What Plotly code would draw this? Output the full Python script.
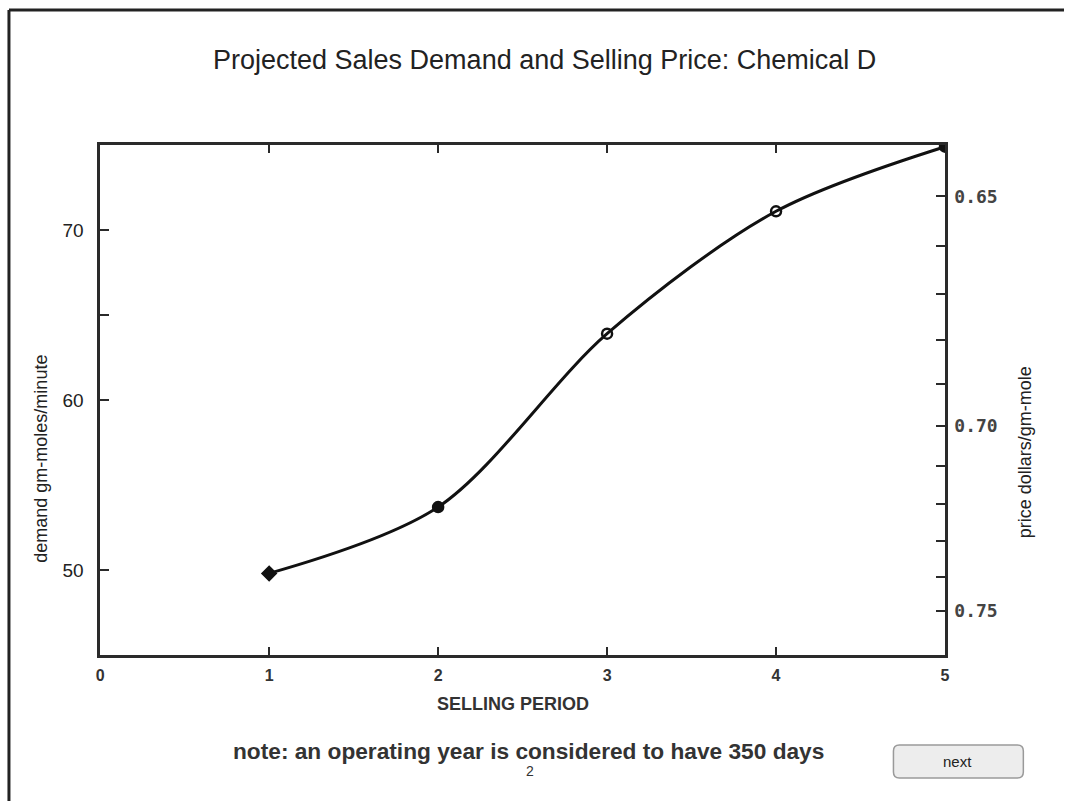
import plotly.graph_objects as go

# ---------------- data ----------------
periods = [1, 2, 3, 4, 5]
demand = [49.8, 53.7, 63.9, 71.1, 74.9]
marker_symbols = ["diamond", "circle", "circle-open", "circle-open", "circle"]

x_ticks = [0, 1, 2, 3, 4, 5]
x_tick_labels = ["0", "1", "2", "3", "4", "5"]

demand_ticks = [50, 60, 65, 70]
demand_tick_labels = ["50", "60", "", "70"]

price_ticks = [0.65, 0.66, 0.67, 0.68, 0.69, 0.70, 0.71, 0.72, 0.73, 0.74, 0.75]
price_tick_labels = ["0.65", "", "", "", "", "0.70", "", "", "", "", "0.75"]

# price axis is non-linear: demand-equivalent = A + B / price^2
PRICE_A, PRICE_B = -26.0, 41.4
price_positions = [PRICE_A + PRICE_B / (p * p) for p in price_ticks]

W, H = 1069, 801
def px(x):
    return x / W
def py(y):
    return 1 - y / H

AX = "#2a2a2a"
SANS = "Liberation Sans, Arial, Helvetica, sans-serif"
NARROW = "Liberation Sans Narrow, Arial Narrow, Liberation Sans, sans-serif"
MONO = "DejaVu Sans Mono, Liberation Mono, monospace"

fig = go.Figure()
fig.add_trace(go.Scatter(
    x=periods, y=demand, mode="lines+markers",
    line=dict(color="#111", width=3, shape="spline", smoothing=0.9),
    marker=dict(symbol=marker_symbols, size=10, color="#111",
                line=dict(color="#111", width=2.5)),
    showlegend=False, hoverinfo="x+y",
))
# invisible trace to activate the right axis
fig.add_trace(go.Scatter(x=[periods[0]], y=[demand[0]], yaxis="y2",
                         mode="markers", marker=dict(opacity=0),
                         showlegend=False, hoverinfo="skip"))

x0, x1 = px(97), px(949)
y0, y1 = py(655), py(145)

fig.update_layout(
    width=W, height=H,
    margin=dict(l=0, r=0, t=0, b=0),
    paper_bgcolor="white", plot_bgcolor="white",
    xaxis=dict(domain=[x0, x1], range=[0, 5], tickvals=x_ticks, ticktext=x_tick_labels,
               showgrid=False, zeroline=False, showline=True, linecolor=AX, linewidth=3,
               mirror="ticks", ticks="inside", ticklen=8, tickwidth=2, tickcolor=AX,
               tickfont=dict(family=NARROW, size=16, color="#333", weight="bold"),
               ticklabelstandoff=4),
    yaxis=dict(domain=[y0, y1], range=[45, 75], tickvals=demand_ticks, ticktext=demand_tick_labels,
               showgrid=False, zeroline=False, showline=True, linecolor=AX, linewidth=2.5,
               ticks="inside", ticklen=9, tickwidth=2, tickcolor=AX,
               tickfont=dict(family=SANS, size=19, color="#222"),
               ticklabelstandoff=10),
    yaxis2=dict(overlaying="y", side="right", anchor="x", range=[45, 75],
                tickvals=price_positions, ticktext=price_tick_labels,
                showgrid=False, zeroline=False, showline=True, linecolor=AX, linewidth=2.5,
                ticks="inside", ticklen=9, tickwidth=2, tickcolor=AX,
                tickfont=dict(family=MONO, size=18, color="#444", weight="bold"),
                ticklabelstandoff=3),
)

# outer frame (top and left edges)
fig.add_shape(type="line", xref="paper", yref="paper", x0=px(5), x1=1, y0=py(10), y1=py(10),
              line=dict(color="#222", width=3))
fig.add_shape(type="line", xref="paper", yref="paper", x0=px(5), x1=px(5), y0=py(10), y1=0,
              line=dict(color="#222", width=3))

# "next" button (rounded rectangle)
bx0, bx1, by0, by1, r = 897, 1028, 745, 778, 6
path = (f"M {px(bx0 + r)} {py(by0)} L {px(bx1 - r)} {py(by0)} "
        f"Q {px(bx1)} {py(by0)} {px(bx1)} {py(by0 + r)} L {px(bx1)} {py(by1 - r)} "
        f"Q {px(bx1)} {py(by1)} {px(bx1 - r)} {py(by1)} L {px(bx0 + r)} {py(by1)} "
        f"Q {px(bx0)} {py(by1)} {px(bx0)} {py(by1 - r)} L {px(bx0)} {py(by0 + r)} "
        f"Q {px(bx0)} {py(by0)} {px(bx0 + r)} {py(by0)} Z")
fig.add_shape(type="path", xref="paper", yref="paper", path=path,
              fillcolor="#ededed", line=dict(color="#9a9a9a", width=1.5))

def text(x, y, s, size, family=SANS, color="#222", angle=0, bold=False):
    fig.add_annotation(x=px(x), y=py(y), xref="paper", yref="paper", text=s,
                       showarrow=False, textangle=angle, xanchor="center", yanchor="middle",
                       font=dict(family=family, size=size, color=color,
                                 weight="bold" if bold else "normal"))

text(545, 60, "Projected Sales Demand and Selling Price: Chemical D", 27)
text(37, 459, "demand gm-moles/minute", 18, angle=-90)
text(1030, 452, "price dollars/gm-mole", 18, angle=-90)
text(513, 704, "SELLING PERIOD", 18, family=NARROW, color="#333", bold=True)
text(529, 751, "note: an operating year is considered to have 350 days", 22.7,
     family=NARROW, color="#333", bold=True)
text(530, 771, "2", 14, family=NARROW, color="#333")
text(962, 761, "next", 15, family=NARROW, color="#222")

fig.write_html("out.html", post_script="document.body.style.margin='0';",
               config={"displayModeBar": False})
